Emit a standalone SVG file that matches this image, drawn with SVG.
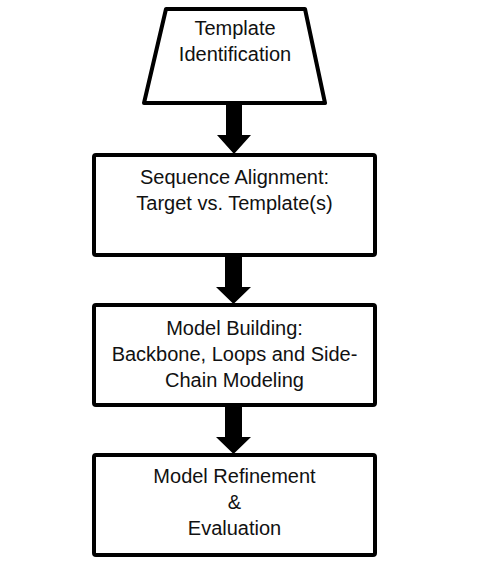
<svg xmlns="http://www.w3.org/2000/svg" width="487" height="562" viewBox="0 0 487 562">
<style>
.n{fill:#fff;stroke:#000;stroke-width:4;stroke-linejoin:round}
.t{font-family:"Liberation Sans",Arial,sans-serif;font-size:20px;fill:#111;text-anchor:middle}
.a{fill:#000}
</style>
<rect width="487" height="562" fill="#fff"/>
<g id="connectors">
<polygon class="a" points="226,103 242,103 242,135 251,135 234,154 217,135 226,135"/>
<polygon class="a" points="225,255 242,255 242,287 251,287 233.5,304 216,287 225,287"/>
<polygon class="a" points="225,405 242,405 242,437 251,437 233.5,454 216,437 225,437"/>
</g>
<g id="template-identification">
<polygon class="n" points="166,9 305,9 325,103 144,103"/>
<text class="t" x="235" y="35">Template</text>
<text class="t" x="235" y="61">Identification</text>
</g>
<g id="sequence-alignment">
<rect class="n" x="94" y="155" width="281" height="100" rx="2"/>
<text class="t" x="234.5" y="184">Sequence Alignment:</text>
<text class="t" x="234.5" y="210">Target vs. Template(s)</text>
</g>
<g id="model-building">
<rect class="n" x="94" y="305" width="281" height="100" rx="2"/>
<text class="t" x="234.5" y="335">Model Building:</text>
<text class="t" x="234.5" y="361">Backbone, Loops and Side-</text>
<text class="t" x="234.5" y="387">Chain Modeling</text>
</g>
<g id="model-refinement">
<rect class="n" x="94" y="455" width="281" height="100" rx="2"/>
<text class="t" x="234.5" y="483">Model Refinement</text>
<text class="t" x="234.5" y="509">&amp;</text>
<text class="t" x="234.5" y="535">Evaluation</text>
</g>
</svg>
